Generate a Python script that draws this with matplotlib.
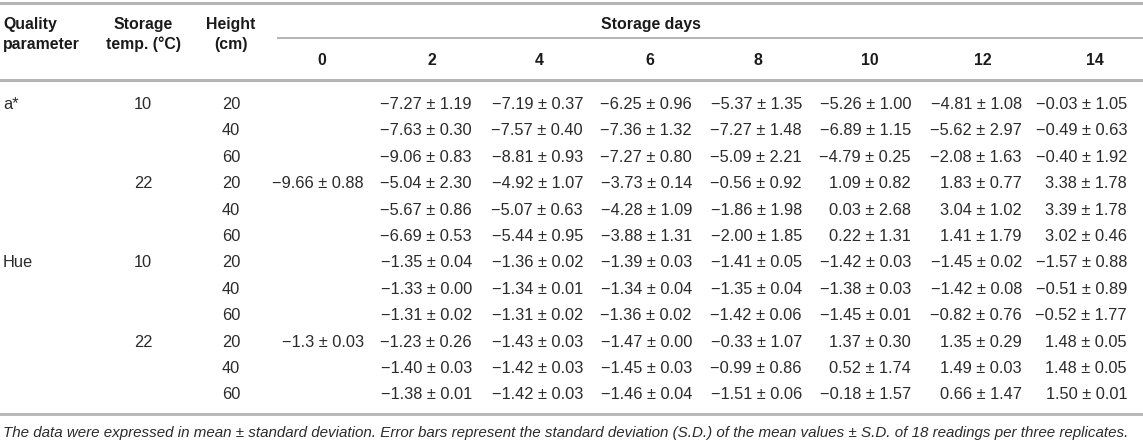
# Tabelle: a* und Hue über Lagertage, als Matplotlib-Bild
import matplotlib.pyplot as plt

plt.rcParams['font.family'] = ['Liberation Sans', 'DejaVu Sans']

# Daten
parameter = ['a*', 'Hue']
temperaturen = [10, 22]
hoehen = [20, 40, 60]
tage = [0, 2, 4, 6, 8, 10, 12, 14]

# Tag 0 (nur eine Messung pro Parameter)
tag0_mittel = [-9.66, -1.3]
tag0_sd = [0.88, 0.03]

# Tage 2..14, Reihen: (10°C: 20, 40, 60), (22°C: 20, 40, 60)
a_mittel = [
    [-7.27, -7.19, -6.25, -5.37, -5.26, -4.81, -0.03],
    [-7.63, -7.57, -7.36, -7.27, -6.89, -5.62, -0.49],
    [-9.06, -8.81, -7.27, -5.09, -4.79, -2.08, -0.40],
    [-5.04, -4.92, -3.73, -0.56, 1.09, 1.83, 3.38],
    [-5.67, -5.07, -4.28, -1.86, 0.03, 3.04, 3.39],
    [-6.69, -5.44, -3.88, -2.00, 0.22, 1.41, 3.02],
]
a_sd = [
    [1.19, 0.37, 0.96, 1.35, 1.00, 1.08, 1.05],
    [0.30, 0.40, 1.32, 1.48, 1.15, 2.97, 0.63],
    [0.83, 0.93, 0.80, 2.21, 0.25, 1.63, 1.92],
    [2.30, 1.07, 0.14, 0.92, 0.82, 0.77, 1.78],
    [0.86, 0.63, 1.09, 1.98, 2.68, 1.02, 1.78],
    [0.53, 0.95, 1.31, 1.85, 1.31, 1.79, 0.46],
]
hue_mittel = [
    [-1.35, -1.36, -1.39, -1.41, -1.42, -1.45, -1.57],
    [-1.33, -1.34, -1.34, -1.35, -1.38, -1.42, -0.51],
    [-1.31, -1.31, -1.36, -1.42, -1.45, -0.82, -0.52],
    [-1.23, -1.43, -1.47, -0.33, 1.37, 1.35, 1.48],
    [-1.40, -1.42, -1.45, -0.99, 0.52, 1.49, 1.48],
    [-1.38, -1.42, -1.46, -1.51, -0.18, 0.66, 1.50],
]
hue_sd = [
    [0.04, 0.02, 0.03, 0.05, 0.03, 0.02, 0.88],
    [0.00, 0.01, 0.04, 0.04, 0.03, 0.08, 0.89],
    [0.02, 0.02, 0.02, 0.06, 0.01, 0.76, 1.77],
    [0.26, 0.03, 0.00, 1.07, 0.30, 0.29, 0.05],
    [0.03, 0.03, 0.03, 0.86, 1.74, 0.03, 0.05],
    [0.01, 0.03, 0.04, 0.06, 1.57, 1.47, 0.01],
]

fussnote = ('The data were expressed in mean \u00b1 standard deviation. Error bars represent '
            'the standard deviation (S.D.) of the mean values \u00b1 S.D. of 18 readings per '
            'three replicates.')


def fmt(m, s, kurz=False):
    zahl = f'{abs(m):g}' if kurz else f'{abs(m):.2f}'
    vorz = '\u2212' if m < 0 else ''
    return f'{vorz}{zahl} \u00b1 {s:.2f}'


# Layout (Pixel)
B, H = 1143, 441
fig = plt.figure(figsize=(B / 100, H / 100), dpi=100)
ax = fig.add_axes([0, 0, 1, 1])
ax.set_xlim(0, B)
ax.set_ylim(H, 0)
ax.axis('off')

text_farbe = '#2b2b2b'
linie = '#b4b4b4'
gr = 11.8

spalte_rechts = [364, 472, 583, 692, 802, 911, 1022, 1127]
spalte_mitte = [322, 432, 539, 650, 758, 870, 983, 1095]
x_temp = 143
x_hoehe = 231
y_zeile0 = 103
dy = 26.4

# Linien
ax.plot([0, B], [3, 3], color=linie, lw=2.2)
ax.plot([278, B], [38, 38], color=linie, lw=1.4)
ax.plot([0, B], [80, 80], color=linie, lw=2.2)
ax.plot([0, B], [414, 414], color=linie, lw=2.0)

# Kopfzeile
kopf = dict(fontsize=11.4, fontweight='bold', color='#1a1a1a', va='center_baseline')
ax.text(3, 23, 'Quality', ha='left', **kopf)
ax.text(3, 43, 'parameter', ha='left', **kopf)
ax.text(x_temp, 23, 'Storage', ha='center', **kopf)
ax.text(x_temp, 43, 'temp. (\u00b0C)', ha='center', **kopf)
ax.text(x_hoehe, 23, 'Height', ha='center', **kopf)
ax.text(x_hoehe, 43, '(cm)', ha='center', **kopf)
ax.text(651, 23, 'Storage days', ha='center', **kopf)
for t, xm in zip(tage, spalte_mitte):
    ax.text(xm, 59, str(t), ha='center', **kopf)

# Datenzeilen
zelle = dict(fontsize=gr, color=text_farbe, va='center_baseline')
mittel_alle = [a_mittel, hue_mittel]
sd_alle = [a_sd, hue_sd]
zeile = 0
for p, name in enumerate(parameter):
    for ti, temp in enumerate(temperaturen):
        for hi, hoehe in enumerate(hoehen):
            y = y_zeile0 + zeile * dy
            if ti == 0 and hi == 0:
                ax.text(3, y, name, ha='left', **zelle)
            if hi == 0:
                ax.text(x_temp, y, str(temp), ha='center', **zelle)
                if ti == 1:
                    ax.text(spalte_rechts[0], y, fmt(tag0_mittel[p], tag0_sd[p], kurz=True),
                            ha='right', **zelle)
            ax.text(x_hoehe, y, str(hoehe), ha='center', **zelle)
            r = ti * 3 + hi
            for k in range(len(tage) - 1):
                ax.text(spalte_rechts[k + 1], y, fmt(mittel_alle[p][r][k], sd_alle[p][r][k]),
                        ha='right', **zelle)
            zeile += 1

ax.text(3, 431, fussnote, ha='left', va='center_baseline', fontsize=10.9,
        style='italic', color=text_farbe)

fig.savefig('out.png', dpi=100)
